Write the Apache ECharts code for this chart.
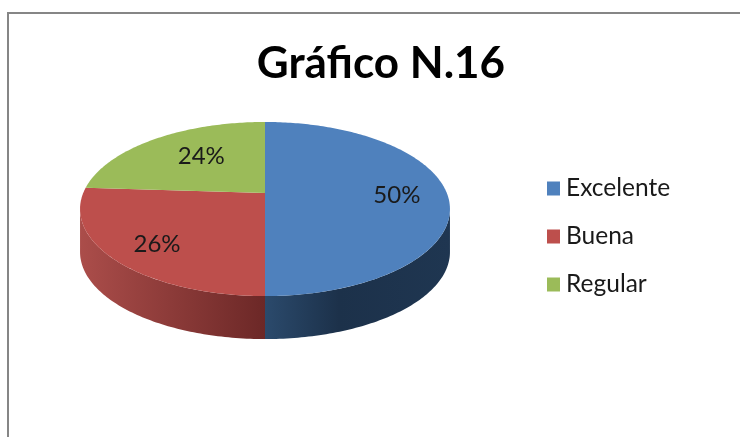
<!DOCTYPE html>
<html>
<head>
<meta charset="utf-8">
<style>html,body{margin:0;padding:0;background:#fff}#c{width:740px;height:437px}</style>
<script src="https://cdn.jsdelivr.net/npm/echarts@6/dist/echarts.min.js"></script>
</head>
<body>
<div id="c"></div>
<script>
const titleText = 'Gráfico N.16';
const categories = ['Excelente', 'Buena', 'Regular'];
const values = [50, 26, 24];
const topColors = ['#4f81bd', '#bd4f4c', '#9bbb59'];
const wallStops = [
  [[0, '#2b4a6c'], [0.4, '#1c314a'], [1, '#1f3651']],
  [[0, '#ab4d4a'], [1, '#6c2827']],
  [[0, '#9bbb59'], [1, '#9bbb59']]
];
const labelNudge = [[1, 2], [-3, 6], [18, 4]];

// Tilted-disc projection (layout only)
const view = { cx: 265, cy: 193, a: 181.8, b: 84.1, k: 0.184, depth: 43, labelR: 0.72 };
const total = values.reduce((s, v) => s + v, 0);
const rimLimit = Math.acos(-view.k);               // where the rim turns back
const rimFrom = rimLimit, rimTo = 2 * Math.PI - rimLimit;

function project(theta, r) {
  const x = Math.sin(theta) * r, y = Math.cos(theta) * r, w = 1 + view.k * y;
  return [view.cx + view.a * x / w, view.cy - view.b * y / w];
}
function arc(t0, t1) {
  const n = Math.max(2, Math.ceil(Math.abs(t1 - t0) * 60)), pts = [];
  for (let i = 0; i <= n; i++) pts.push(project(t0 + (t1 - t0) * i / n, 1));
  return pts;
}

function makeSeries(idx) {
  const before = values.slice(0, idx).reduce((s, v) => s + v, 0);
  const t0 = before / total * 2 * Math.PI;
  const t1 = (before + values[idx]) / total * 2 * Math.PI;
  return {
    type: 'custom',
    name: categories[idx],
    coordinateSystem: 'none',
    silent: true,
    animation: false,
    itemStyle: { color: topColors[idx] },
    data: [[values[idx]]],
    renderItem: function () {
      const children = [];
      const w0 = Math.max(t0, rimFrom), w1 = Math.min(t1, rimTo);
      if (w1 > w0) {
        const rim = arc(w0, w1);
        const low = rim.map(p => [p[0], p[1] + view.depth]).reverse();
        children.push({
          type: 'polygon',
          shape: { points: rim.concat(low) },
          style: { fill: new echarts.graphic.LinearGradient(0, 0, 1, 0,
            wallStops[idx].map(s => ({ offset: s[0], color: s[1] }))) }
        });
      }
      children.push({
        type: 'polygon',
        shape: { points: [[view.cx, view.cy]].concat(arc(t0, t1)) },
        style: { fill: topColors[idx] }
      });
      const p = project((t0 + t1) / 2, view.labelR);
      children.push({
        type: 'text',
        z2: 10,
        style: {
          text: Math.round(values[idx] / total * 100) + '%',
          x: p[0] + labelNudge[idx][0],
          y: p[1] + labelNudge[idx][1],
          align: 'center', verticalAlign: 'middle',
          font: '24px Lato', fill: '#1a1a1a'
        }
      });
      return { type: 'group', children: children };
    }
  };
}

const chart = echarts.init(document.getElementById('c'), null, { renderer: 'canvas' });
chart.setOption({
  animation: false,
  backgroundColor: '#ffffff',
  title: {
    text: titleText, left: 376, top: 37, textAlign: 'center',
    textStyle: { fontFamily: 'Lato', fontWeight: 'bold', fontSize: 44, color: '#000' }
  },
  legend: {
    orient: 'vertical', left: 542, top: 171, icon: 'rect',
    itemWidth: 13, itemHeight: 14, itemGap: 23, selectedMode: false,
    textStyle: { fontFamily: 'Lato', fontSize: 24.5, color: '#1a1a1a', padding: [0, 0, 0, 1], lineHeight: 25 },
    data: categories
  },
  graphic: [
    { type: 'rect', shape: { x: 7, y: 12, width: 2, height: 425 }, style: { fill: '#868686' }, silent: true },
    { type: 'rect', shape: { x: 7, y: 12, width: 733, height: 2 }, style: { fill: '#868686' }, silent: true }
  ],
  series: categories.map((_, i) => makeSeries(i))
});
</script>
</body>
</html>
